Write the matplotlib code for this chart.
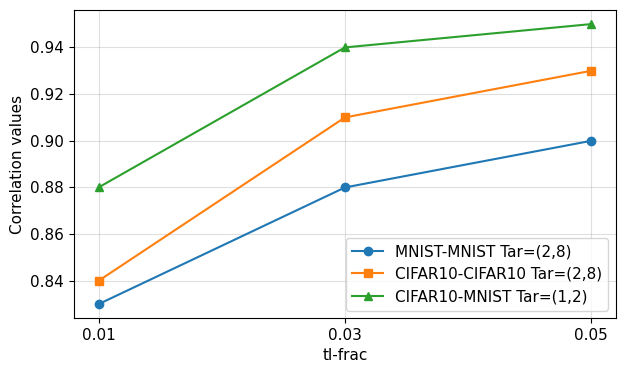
import matplotlib
matplotlib.use("Agg")
import matplotlib.pyplot as plt

tl_frac = [0.01, 0.03, 0.05]
mnist_mnist = [0.83, 0.88, 0.90]
cifar_cifar = [0.84, 0.91, 0.93]
cifar_mnist = [0.88, 0.94, 0.95]

plt.rcParams['font.size'] = 11

fig = plt.figure(figsize=(6.26, 3.73), dpi=100)
ax = fig.add_axes([0.118, 0.147, 0.866, 0.826])

ax.plot(tl_frac, mnist_mnist, marker='o', label='MNIST-MNIST Tar=(2,8)')
ax.plot(tl_frac, cifar_cifar, marker='s', label='CIFAR10-CIFAR10 Tar=(2,8)')
ax.plot(tl_frac, cifar_mnist, marker='^', label='CIFAR10-MNIST Tar=(1,2)')

ax.set_xticks(tl_frac)
ax.set_xticklabels(['0.01', '0.03', '0.05'])
ax.set_xlabel('tl-frac')
ax.set_ylabel('Correlation values')
ax.grid(True, alpha=0.4)
ax.legend(loc='lower right')

fig.savefig('out.png', dpi=100)
